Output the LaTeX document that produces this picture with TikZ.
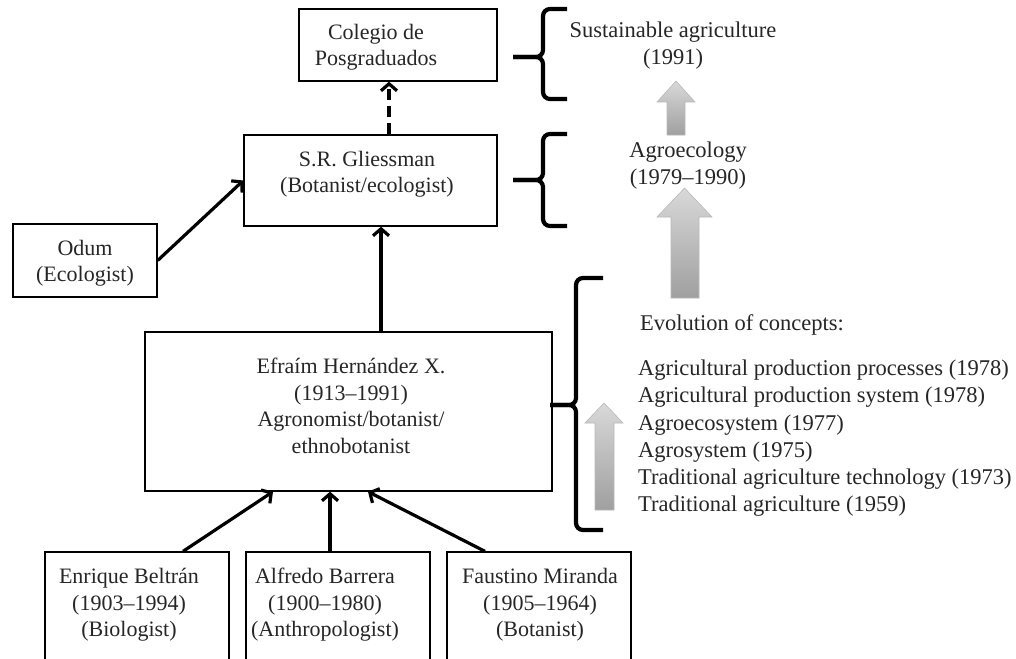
\documentclass[tikz,border=0pt]{standalone}
\usepackage{fontspec}
\setmainfont{Liberation Serif}
\usetikzlibrary{arrows.meta}
\newcommand{\fsz}{\fontsize{22}{26.5}\selectfont}
\newcommand{\fsr}{\fontsize{22.5}{27.1}\selectfont}
\begin{document}
\begin{tikzpicture}[x=1pt,y=-1pt,
  box/.style={draw, line width=1.3pt, inner sep=0pt, minimum width=#1},
  lbl/.style={align=center, font=\fsz, inner sep=0pt, text=black!85},
  rlbl/.style={lbl, font=\fsr},
  conn/.style={line width=3.2pt, -{Straight Barb[length=7pt,width=16pt]}},
  brace/.style={line width=4.2pt, rounded corners=7pt},
  garrow/.style={top color=gray!30, bottom color=gray!75, draw=gray!55, line width=0.6pt}]
\useasboundingbox (0,0) rectangle (1016,658);
\fill[white] (0,0) rectangle (1016,658);
\begin{scope}
\clip (0,0) rectangle (1016,658);
% boxes
\node[box=198pt, minimum height=72pt] (col) at (398,45) {};
\node[box=253pt, minimum height=91pt] (gli) at (370.5,180.5) {};
\node[box=144pt, minimum height=73pt] (odum) at (85,260.5) {};
\node[box=407pt, minimum height=159pt] (efr) at (348.5,411.5) {};
\node[box=184pt, minimum height=118pt] (enr) at (137,611) {};
\node[box=184pt, minimum height=118pt] (alf) at (338,611) {};
\node[box=184pt, minimum height=118pt] (fau) at (539,611) {};
\end{scope}
% box texts
\node[lbl] (tcol) at (376,47) {Colegio de\\Posgraduados};
\node[lbl] (tgli) at (367,174) {S.R. Gliessman\\(Botanist/ecologist)};
\node[lbl] (todum) at (85,263) {Odum\\(Ecologist)};
\node[lbl] (tefr) at (351,406) {Efraím Hernández X.\\(1913--1991)\\Agronomist/botanist/\\ethnobotanist};
\node[lbl] (tenr) at (129,605) {Enrique Beltrán\\(1903--1994)\\(Biologist)};
\node[lbl] (talf) at (325,605) {Alfredo Barrera\\(1900--1980)\\(Anthropologist)};
\node[lbl] (tfau) at (540,605) {Faustino Miranda\\(1905--1964)\\(Botanist)};
% connector x positions
\coordinate (xa) at (389,0);
\coordinate (xb) at (381,0);
\coordinate (xc) at (330,0);
\coordinate (e1) at (183,0);
\coordinate (e2) at (273,0);
\coordinate (f1) at (485,0);
\coordinate (f2) at (368,0);
% connectors
\draw[conn, dash pattern=on 11pt off 6pt] (gli.north -| xa) -- (col.south -| xa);
\draw[conn] (odum.east) -- (gli.west);
\draw[conn] (efr.north -| xb) -- (gli.south -| xb);
\draw[conn] (enr.north -| e1) -- (efr.south -| e2);
\draw[conn] (alf.north -| xc) -- (efr.south -| xc);
\draw[conn] (fau.north -| f1) -- (efr.south -| f2);
% braces
\draw[brace] (567,9) -- (543,9) -- (543,57) -- (513,57);
\draw[brace] (567,99) -- (543,99) -- (543,57) -- (513,57);
\draw[brace] (567,134) -- (543,134) -- (543,180) -- (513,180);
\draw[brace] (567,226) -- (543,226) -- (543,180) -- (513,180);
\draw[brace] (603,278) -- (576,278) -- (576,405) -- (550,405);
\draw[brace] (603,530) -- (576,530) -- (576,405) -- (550,405);
% gradient arrows
\shade[garrow] (667,135) -- (667,102) -- (657,102) -- (676,81) -- (695,102) -- (685,102) -- (685,135) -- cycle;
\shade[garrow] (671,298) -- (671,217) -- (657,217) -- (684.5,188) -- (712,217) -- (699,217) -- (699,298) -- cycle;
\shade[garrow] (595,510) -- (595,423) -- (585,423) -- (604,403) -- (623,423) -- (614,423) -- (614,510) -- cycle;
% right texts
\node[rlbl] (sus) at (673,46) {Sustainable agriculture\\(1991)};
\node[rlbl] (agro) at (688,166) {Agroecology\\(1979--1990)};
\node[rlbl, anchor=west] (evo) at (640,325) {Evolution of concepts:};
\node[rlbl, anchor=north west, align=left] (list) at (638,360) {Agricultural production processes (1978)\\Agricultural production system (1978)\\Agroecosystem (1977)\\Agrosystem (1975)\\Traditional agriculture technology (1973)\\Traditional agriculture (1959)};
\end{tikzpicture}
\end{document}
